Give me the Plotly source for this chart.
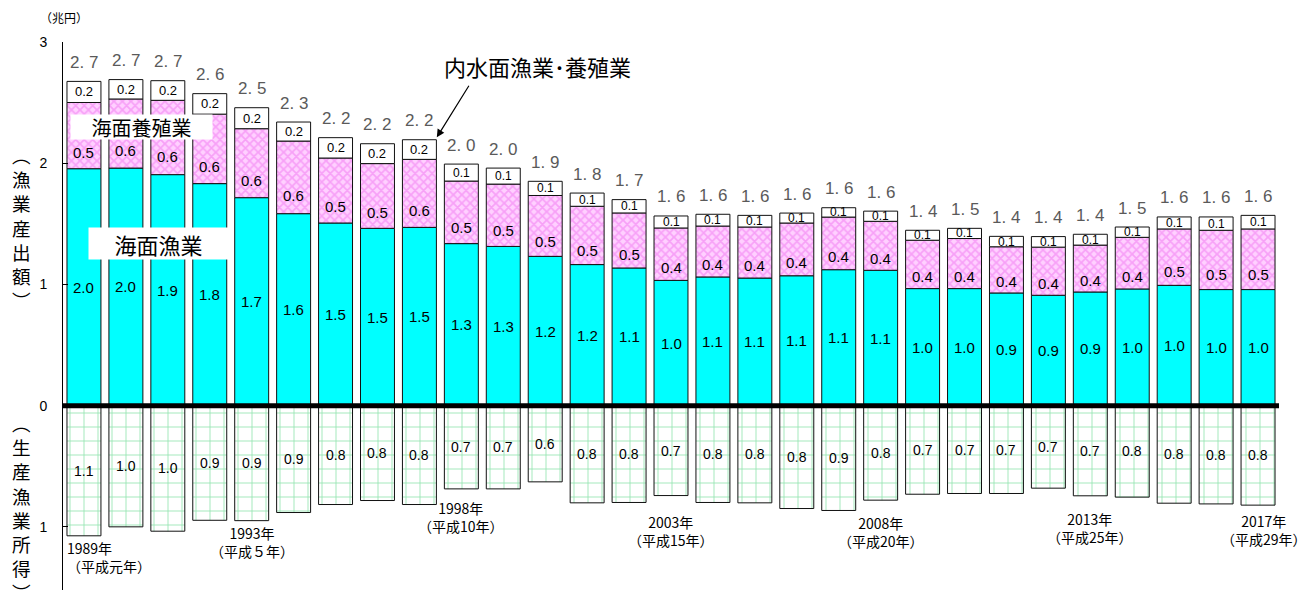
import plotly.graph_objects as go

# 漁業産出額と生産漁業所得の推移（兆円）
years = list(range(1989, 2018))

# 海面漁業
sea_fishing = [1.955, 1.960, 1.906, 1.832, 1.716, 1.584, 1.507, 1.463, 1.471, 1.337,
               1.314, 1.232, 1.164, 1.136, 1.034, 1.062, 1.053, 1.072, 1.122, 1.117,
               0.966, 0.966, 0.930, 0.911, 0.938, 0.963, 0.993, 0.958, 0.958]
# 海面養殖業
sea_aquaculture = [0.546, 0.570, 0.613, 0.573, 0.569, 0.599, 0.536, 0.534, 0.561, 0.516,
                   0.514, 0.502, 0.481, 0.454, 0.432, 0.420, 0.421, 0.435, 0.434, 0.404,
                   0.399, 0.413, 0.381, 0.397, 0.387, 0.426, 0.465, 0.489, 0.500]
# 内水面漁業・養殖業
inland = [0.174, 0.160, 0.162, 0.169, 0.173, 0.157, 0.168, 0.164, 0.162, 0.140,
          0.132, 0.117, 0.109, 0.110, 0.099, 0.097, 0.096, 0.082, 0.077, 0.084,
          0.082, 0.084, 0.086, 0.087, 0.089, 0.085, 0.099, 0.110, 0.112]
# 生産漁業所得
income = [1.073, 0.999, 1.035, 0.945, 0.948, 0.881, 0.815, 0.782, 0.815, 0.686,
          0.686, 0.628, 0.801, 0.798, 0.741, 0.798, 0.801, 0.848, 0.864, 0.779,
          0.730, 0.724, 0.724, 0.680, 0.743, 0.754, 0.804, 0.810, 0.820]

# 年次ラベル（西暦・和暦）
year_labels = {
    1989: "1989年<br>（平成元年）",
    1993: "1993年<br>（平成５年）",
    1998: "1998年<br>（平成10年）",
    2003: "2003年<br>（平成15年）",
    2008: "2008年<br>（平成20年）",
    2013: "2013年<br>（平成25年）",
    2017: "2017年<br>（平成29年）",
}

ytick_vals = [3, 2, 1, 0, -1]
ytick_text = ["3", "2", "1", "0", "1"]

# ---- layout settings ----
FONT_JP = "Noto Sans CJK JP"
FONT_NUM = "Liberation Sans"
BAR_W = 0.81
# gap (px) between the bottom of an income bar and its year label
label_gap = {1989: 0, 1993: 0, 1998: 7, 2003: 14, 2008: 11, 2013: 11, 2017: 4}
label_dx = {1989: -0.45, 2017: 0.15}

idx = list(range(len(years)))
outline = dict(color="#111111", width=1)

fig = go.Figure()
fig.add_trace(go.Bar(
    x=idx, y=sea_fishing, width=BAR_W, name="海面漁業",
    marker=dict(color="#00ffff", line=outline),
))
fig.add_trace(go.Bar(
    x=idx, y=sea_aquaculture, width=BAR_W, name="海面養殖業",
    marker=dict(color="#f070f0", line=outline,
                pattern=dict(shape="x", fgcolor="#f070f0", bgcolor="#ffd0ff",
                             size=6, solidity=0.5)),
))
fig.add_trace(go.Bar(
    x=idx, y=inland, width=BAR_W, name="内水面漁業・養殖業",
    marker=dict(color="#ffffff", line=outline),
))
fig.add_trace(go.Bar(
    x=idx, y=[-v for v in income], width=BAR_W, name="生産漁業所得",
    marker=dict(color="#ffffff", line=outline,
                pattern=dict(shape="+", fgcolor="#2ecc66", bgcolor="#ffffff",
                             size=14, solidity=0.12)),
))

ann = []
for i in idx:
    s, a, n, inc = sea_fishing[i], sea_aquaculture[i], inland[i], income[i]
    total = s + a + n
    # value labels inside segments
    ann.append(dict(x=i, y=s / 2, text=f"{s:.1f}", showarrow=False,
                    font=dict(family=FONT_NUM, size=15, color="black")))
    ann.append(dict(x=i, y=s + a * 0.25, text=f"{a:.1f}", showarrow=False,
                    font=dict(family=FONT_NUM, size=15, color="black")))
    ann.append(dict(x=i, y=s + a + n / 2, text=f"{n:.1f}", showarrow=False,
                    font=dict(family=FONT_NUM, size=13 if n >= 0.15 else 12, color="black")))
    ann.append(dict(x=i, y=-inc / 2, text=f"{inc:.1f}", showarrow=False,
                    font=dict(family=FONT_NUM, size=14, color="black")))
    # total above the stack
    ann.append(dict(x=i, y=total, yshift=19, text=f"{total:.1f}".replace(".", ". "),
                    showarrow=False,
                    font=dict(family=FONT_NUM, size=17, color="#5a5a5a")))
    yr = years[i]
    if yr in year_labels:
        left = yr == 1989
        ann.append(dict(x=i + label_dx.get(yr, 0), y=-inc, yshift=-label_gap[yr],
                        yanchor="top", xanchor="left" if left else "center",
                        align="left" if left else "center",
                        text=year_labels[yr], showarrow=False,
                        font=dict(family=FONT_JP, size=14, color="black")))

# series labels
ann.append(dict(x=1.38, y=2.30, text="海面養殖業", showarrow=False,
                bgcolor="white", width=141, height=24, borderpad=0,
                font=dict(family=FONT_JP, size=20, color="black")))
ann.append(dict(x=1.78, y=1.334, text="海面漁業", showarrow=False,
                bgcolor="white", width=139, height=31, borderpad=0,
                font=dict(family=FONT_JP, size=22, color="black")))
ann.append(dict(x=10.82, y=2.80, text="内水面漁業･養殖業", showarrow=False,
                font=dict(family=FONT_JP, size=22, color="black")))
ann.append(dict(x=8 + BAR_W / 2 + 0.01, y=sea_fishing[8] + sea_aquaculture[8] + inland[8] + 0.02,
                ax=33, ay=-53, text="", showarrow=True,
                arrowhead=2, arrowsize=1.3, arrowwidth=1.2, arrowcolor="black", standoff=0))

# axis titles and unit
ann.append(dict(xref="paper", yref="paper", x=-0.0345, y=0.6624,
                xanchor="center", yanchor="middle",
                text="<br>".join("︵漁業産出額︶"), showarrow=False,
                font=dict(family=FONT_JP, size=18.6, color="black")))
ann.append(dict(xref="paper", yref="paper", x=-0.0345, y=0.1515,
                xanchor="center", yanchor="middle",
                text="<br>".join("︵生産漁業所得︶"), showarrow=False,
                font=dict(family=FONT_JP, size=18.6, color="black")))
ann.append(dict(xref="paper", yref="paper", x=0.0008, y=1.0438,
                xanchor="center", yanchor="middle",
                text="（兆円）", showarrow=False,
                font=dict(family=FONT_JP, size=12, color="black")))

fig.update_layout(
    width=1306, height=591,
    margin=dict(l=63, r=27, t=42, b=1),
    barmode="relative",
    showlegend=False,
    paper_bgcolor="white", plot_bgcolor="white",
    annotations=ann,
    shapes=[dict(type="line", xref="paper", yref="y", x0=0, x1=1, y0=0, y1=0,
                 line=dict(color="black", width=5), layer="above")],
    xaxis=dict(range=[-0.5, 28.5], visible=False),
    yaxis=dict(range=[-1.52, 3.0], tickvals=ytick_vals, ticktext=ytick_text,
               ticks="inside", ticklen=5, tickcolor="black",
               showline=True, linecolor="black", linewidth=1,
               showgrid=False, zeroline=False, ticklabelstandoff=12,
               tickfont=dict(family=FONT_NUM, size=14, color="black")),
)

fig.write_html("out.html")
